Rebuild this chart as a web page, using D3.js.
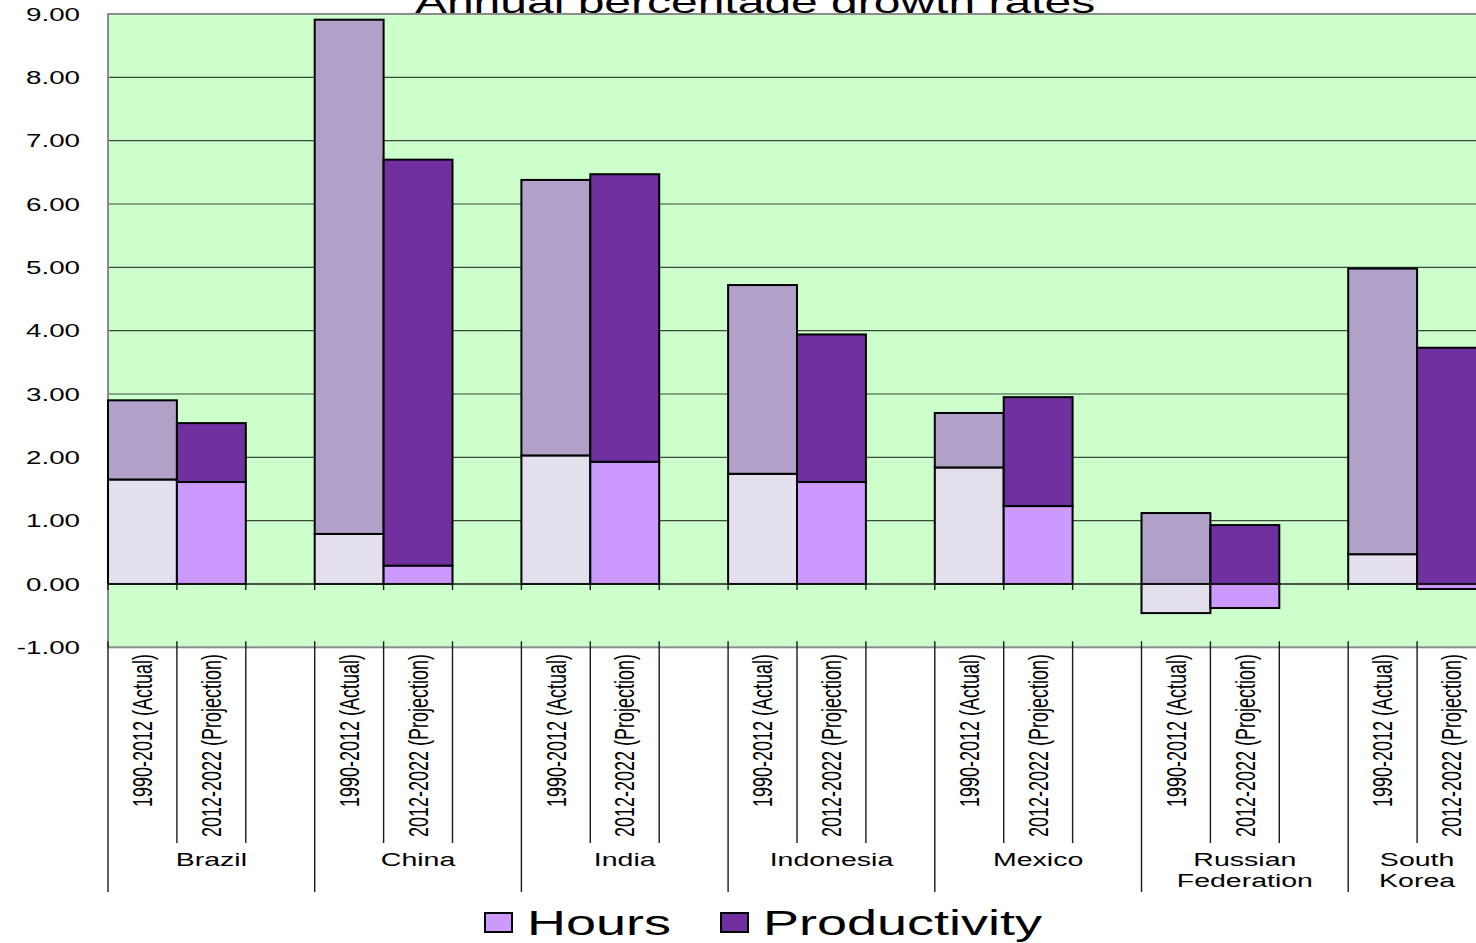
<!DOCTYPE html>
<html>
<head>
<meta charset="utf-8">
<script src="https://cdn.jsdelivr.net/npm/d3@7"></script>
<style>
  html, body { margin: 0; padding: 0; background: #ffffff; }
  svg { display: block; font-family: "Liberation Sans", Arial, sans-serif; }
</style>
</head>
<body>
<svg id="chart" width="1476" height="943"></svg>
<script>
// Annual percentage growth rates: hours and productivity contributions by country
const countries = ["Brazil", "China", "India", "Indonesia", "Mexico", "Russian Federation", "South Korea"];
const countryLines = [["Brazil"], ["China"], ["India"], ["Indonesia"], ["Mexico"], ["Russian", "Federation"], ["South", "Korea"]];
const periods = ["1990-2012 (Actual)", "2012-2022 (Projection)"];

const hoursActual = [1.65, 0.79, 2.03, 1.74, 1.84, -0.46, 0.47];
const productivityActual = [1.25, 8.12, 4.35, 2.98, 0.86, 1.12, 4.51];
const hoursProjection = [1.61, 0.29, 1.93, 1.61, 1.23, -0.38, -0.08];
const productivityProjection = [0.93, 6.41, 4.54, 2.33, 1.72, 0.93, 3.73];

const yTicks = [-1, 0, 1, 2, 3, 4, 5, 6, 7, 8, 9];
const seriesNames = ["Hours", "Productivity"];
const title = "Annual percentage growth rates";

// fill colours per period (actual is a paler version of the projection colours)
const fills = {
  "1990-2012 (Actual)": { Hours: "#e4dfec", Productivity: "#b1a0c7" },
  "2012-2022 (Projection)": { Hours: "#cc99ff", Productivity: "#7030a0" }
};

const SX = 1.5; // horizontal text stretch
const svg = d3.select("#chart");

const plot = { left: 108, top: 14, bottom: 647.3 };
const groupWidth = 206.7;

const x = d3.scaleBand().domain(countries)
  .range([plot.left, plot.left + groupWidth * countries.length]);
const xSub = d3.scaleBand().domain(periods).range([0, x.bandwidth() * 2 / 3]);
const y = d3.scaleLinear().domain([-1, 9]).range([plot.bottom, plot.top]);

// the plot area ends right after the last pair of bars
const lastCountry = countries[countries.length - 1];
const plotRight = x(lastCountry) + x.bandwidth() * 2 / 3;

// rows: one per country & period
const rows = [];
countries.forEach((c, i) => {
  rows.push({ country: c, period: periods[0], Hours: hoursActual[i], Productivity: productivityActual[i] });
  rows.push({ country: c, period: periods[1], Hours: hoursProjection[i], Productivity: productivityProjection[i] });
});
const stacked = d3.stack().keys(seriesNames).offset(d3.stackOffsetDiverging)(rows);

// title (partly hidden behind the plot area)
svg.append("text")
  .attr("transform", `translate(755,12.5) scale(${SX},1)`)
  .attr("text-anchor", "middle")
  .attr("font-size", 32)
  .attr("fill", "#000")
  .text(title);

// plot background
svg.append("rect")
  .attr("x", plot.left).attr("y", plot.top)
  .attr("width", plotRight - plot.left).attr("height", plot.bottom - plot.top)
  .attr("fill", "#ccffcc");

// horizontal gridlines
svg.append("g").selectAll("line")
  .data(yTicks.filter(t => t > -1 && t < 9 && t !== 0))
  .join("line")
  .attr("x1", plot.left).attr("x2", plotRight)
  .attr("y1", d => y(d)).attr("y2", d => y(d))
  .attr("stroke", "#3b4a3b").attr("stroke-width", 1.2);

// plot border
svg.append("rect")
  .attr("x", plot.left).attr("y", plot.top)
  .attr("width", plotRight - plot.left).attr("height", plot.bottom - plot.top)
  .attr("fill", "none").attr("stroke", "#8c8c8c").attr("stroke-width", 2);

// y axis labels
const fmt = d3.format(".2f");
svg.append("g").selectAll("text")
  .data(yTicks)
  .join("text")
  .attr("transform", d => `translate(80,${y(d)}) scale(${SX},1)`)
  .attr("text-anchor", "end")
  .attr("dy", "0.36em")
  .attr("font-size", 18.5)
  .attr("fill", "#000")
  .text(d => fmt(d).replace("\u2212", "-"));

// bars
stacked.forEach(layer => {
  svg.append("g").selectAll("rect")
    .data(layer)
    .join("rect")
    .attr("x", d => x(d.data.country) + xSub(d.data.period))
    .attr("width", xSub.bandwidth())
    .attr("y", d => y(Math.max(d[0], d[1])))
    .attr("height", d => Math.abs(y(d[0]) - y(d[1])))
    .attr("fill", d => fills[d.data.period][layer.key])
    .attr("stroke", "#000")
    .attr("stroke-width", 2);
});

// zero axis line with tick marks
const tickXs = [];
countries.forEach(c => {
  tickXs.push(x(c), x(c) + x.bandwidth() / 3, x(c) + x.bandwidth() * 2 / 3);
});
svg.append("line")
  .attr("x1", plot.left).attr("x2", plotRight)
  .attr("y1", y(0)).attr("y2", y(0))
  .attr("stroke", "#1a1a1a").attr("stroke-width", 1.4);
svg.append("g").selectAll("line")
  .data(tickXs)
  .join("line")
  .attr("x1", d => d).attr("x2", d => d)
  .attr("y1", y(0)).attr("y2", y(0) + 6)
  .attr("stroke", "#1a1a1a").attr("stroke-width", 1.4);

// category dividers below the plot
svg.append("g").selectAll("line")
  .data(countries)
  .join("line")
  .attr("x1", d => x(d)).attr("x2", d => x(d))
  .attr("y1", plot.bottom - 6).attr("y2", 892)
  .attr("stroke", "#1a1a1a").attr("stroke-width", 1.4);
svg.append("g").selectAll("line")
  .data(countries.flatMap(c => [x(c) + x.bandwidth() / 3, x(c) + x.bandwidth() * 2 / 3]))
  .join("line")
  .attr("x1", d => d).attr("x2", d => d)
  .attr("y1", plot.bottom - 6).attr("y2", 843)
  .attr("stroke", "#1a1a1a").attr("stroke-width", 1.4);

// period labels (rotated)
svg.append("g").selectAll("text")
  .data(countries.flatMap(c => periods.map(p => ({ c, p }))))
  .join("text")
  .attr("transform", d => `translate(${x(d.c) + xSub(d.p) + xSub.bandwidth() / 2},654) scale(${SX},1) rotate(-90)`)
  .attr("text-anchor", "end")
  .attr("dy", "0.36em")
  .attr("font-size", 18)
  .attr("fill", "#000")
  .text(d => d.p);

// country labels, centred on each group's span within the plot
countries.forEach((c, i) => {
  const g = svg.append("g");
  const x0 = x(c);
  const x1 = Math.min(x(c) + x.bandwidth(), plotRight);
  countryLines[i].forEach((line, j) => {
    g.append("text")
      .attr("transform", `translate(${(x0 + x1) / 2},${866 + j * 21}) scale(${SX},1)`)
      .attr("text-anchor", "middle")
      .attr("font-size", 19)
      .attr("fill", "#000")
      .text(line);
  });
});

// legend
const legendItems = [
  { name: "Hours", x: 485, color: fills["2012-2022 (Projection)"].Hours },
  { name: "Productivity", x: 721, color: fills["2012-2022 (Projection)"].Productivity }
];
const lg = svg.append("g");
legendItems.forEach(it => {
  lg.append("rect")
    .attr("x", it.x).attr("y", 913).attr("width", 27).attr("height", 19)
    .attr("fill", it.color).attr("stroke", "#000").attr("stroke-width", 2);
  lg.append("text")
    .attr("transform", `translate(${it.x + 42},935) scale(${SX},1)`)
    .attr("font-size", 36)
    .attr("fill", "#000")
    .text(it.name);
});
</script>
</body>
</html>
